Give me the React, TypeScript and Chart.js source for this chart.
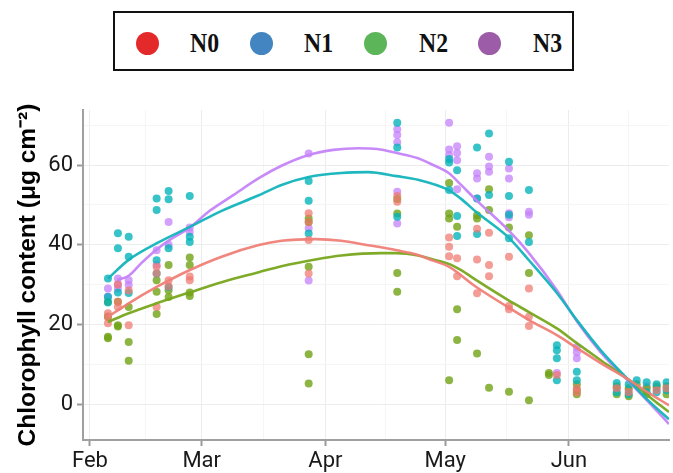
import React, { useEffect, useRef } from "react";
import { Chart, registerables } from "chart.js";

Chart.register(...registerables);

// ---------- data ----------
const seriesNames = ["N0", "N1", "N2", "N3"];

// day-of-year values for month starts (x axis)
const monthTickDays = [32, 60, 91, 121, 152];
const monthTickLabels = ["Feb", "Mar", "Apr", "May", "Jun"];
const minorTickDays = [46, 75.5, 106, 136.5, 167];
const yMajorTicks = [0, 20, 40, 60];
const yMinorTicks = [10, 30, 50, 70];

// observations: [day of year, chlorophyll]
const n0Points: [number, number][] = [
  [36.5, 22.8], [36.5, 21.8], [36.5, 20.3],
  [39, 30], [39, 25.7], [39, 24.4],
  [41.7, 28.5], [41.7, 19.8],
  [48.7, 34.5], [48.7, 32.8], [48.7, 24.4],
  [51.7, 31.1], [51.7, 29.5],
  [57, 32], [57, 31.1],
  [86.8, 47.9], [86.8, 45.7], [86.8, 41.2], [86.8, 32.8],
  [109, 52.2], [109, 50.8],
  [122, 41.8], [122, 39.5], [122, 37.1],
  [124, 36.6], [124, 32.1],
  [129, 44], [129, 36.3], [129, 27.8],
  [132, 43], [132, 34.9], [132, 32.1],
  [137, 37], [137, 24.6], [137, 23.8],
  [142, 29], [142, 21.9], [142, 19.6],
  [149, 7.3],
  [154, 4], [154, 3],
  [164, 4], [167, 3], [174, 3.5], [176.5, 4],
];
const n1Points: [number, number][] = [
  [36.5, 31.5], [36.5, 26.9], [36.5, 25.5],
  [39, 42.9], [39, 39.1], [39, 28],
  [41.7, 42], [41.7, 37], [41.7, 27.9],
  [48.7, 51.6], [48.7, 48.7], [48.7, 36.1], [48.7, 32.8],
  [51.7, 53.5], [51.7, 51.4], [51.7, 39.1], [51.7, 29.4],
  [57, 52.2], [57, 42], [57, 40.7],
  [86.8, 56], [86.8, 51], [86.8, 42.8],
  [109, 70.6], [109, 64.4], [109, 47],
  [122, 61.5], [122, 60.6], [122, 53.7],
  [124, 58.7], [124, 47.2], [124, 42.2],
  [129, 64.4], [129, 51.6], [129, 42.7],
  [132, 67.9], [132, 52.5],
  [137, 60.8], [137, 52.2], [137, 47.5], [137, 41.6],
  [142, 53.7], [142, 40.7],
  [149, 14.8], [149, 13.5], [149, 11.5], [149, 6],
  [154, 8.1], [154, 6],
  [164, 5.3], [164, 3], [167, 5], [167, 2.5], [169, 6],
  [171.5, 5.5], [171.5, 3], [174, 5], [174, 3], [176.5, 5.5], [176.5, 3.5],
];
const n2Points: [number, number][] = [
  [36.5, 25.7], [36.5, 22], [36.5, 16.9], [36.5, 16.5],
  [39, 25.7], [39, 19.8], [39, 19.5],
  [41.7, 24.4], [41.7, 15.6], [41.7, 10.9],
  [48.7, 31.1], [48.7, 28.2], [48.7, 22.6],
  [51.7, 34.9], [51.7, 28.6], [51.7, 26.9],
  [57, 36.8], [57, 34.9], [57, 28], [57, 27.1],
  [86.8, 46.6], [86.8, 45.7], [86.8, 34.5], [86.8, 12.5], [86.8, 5.2],
  [109, 51.5], [109, 47.8], [109, 32.9], [109, 28.2],
  [122, 55.5], [122, 47.8], [122, 46.6], [122, 6],
  [124, 44.5], [124, 23.8], [124, 16.1],
  [129, 47.4], [129, 46.6], [129, 12.7],
  [132, 53.9], [132, 48.7], [132, 4.1],
  [137, 44.3], [137, 3.1],
  [142, 42.4], [142, 32.9], [142, 1],
  [147, 7.8], [147, 7.3],
  [154, 5], [154, 3.5], [154, 2.5],
  [164, 4.5], [164, 2.5], [167, 4], [167, 2], [169, 5],
  [171.5, 4], [171.5, 2.5], [174, 4.5], [176.5, 4.5], [176.5, 2.5],
];
const n3Points: [number, number][] = [
  [36.5, 27], [36.5, 29],
  [39, 31.5], [39, 30], [39, 29],
  [41.7, 31.1], [41.7, 29.9],
  [48.7, 38.6], [48.7, 35],
  [51.7, 45.7], [51.7, 40],
  [57, 44.3], [57, 43.2],
  [86.8, 62.9], [86.8, 44.1], [86.8, 31],
  [109, 69], [109, 67.5], [109, 65.7], [109, 53.3], [109, 45.3],
  [122, 70.6], [122, 63.9], [122, 62.5],
  [124, 64.7], [124, 63], [124, 61.2], [124, 53.9],
  [129, 57.9], [129, 56.6], [129, 51.6],
  [132, 62.1], [132, 59.6], [132, 58.3],
  [137, 59.1], [137, 56.6], [137, 47.9], [137, 46.9],
  [142, 48.3], [142, 47.5],
  [149, 7.8],
  [154, 14.3], [154, 13], [154, 11.5],
  [164, 4], [167, 3.5], [171.5, 4.5], [174, 4],
];

// smoothed (loess) curves: [day, value]
const n0Curve: [number, number][] = [
  [36.5, 21.9], [41.7, 25.3], [48.7, 29.4], [56.9, 33.6], [65, 37], [74.3, 39.9],
  [80, 41], [88.5, 41.4], [95, 41], [101, 40], [108.9, 38.6], [114, 37.5],
  [118, 36], [121.9, 34.5], [128.8, 29.4], [136.8, 24.3], [142, 21.1], [149, 17.3],
  [154, 14.1], [160, 10.3], [167.2, 6], [172, 2.8], [177.1, -0.3],
];
const n1Curve: [number, number][] = [
  [36.5, 31.5], [41.7, 36.2], [49.4, 40.7], [56.9, 44.4], [65, 48.5], [74.3, 52.4],
  [80, 55], [86.8, 57], [95, 58], [101.7, 58.2], [108.9, 57.2], [114.2, 56.3],
  [121.9, 53.7], [125, 51.5], [128.8, 48.2], [136.8, 41.9], [142, 36.1], [149, 27.9],
  [154, 21.1], [160, 13.5], [167.2, 5.8], [172, 0.8], [177.1, -3.8],
];
const n2Curve: [number, number][] = [
  [36.5, 20.6], [41.7, 22.8], [48.7, 25.3], [56.9, 28], [65, 30.6], [74.3, 33.1],
  [80, 34.6], [88.5, 36.3], [95, 37.3], [104.9, 37.9], [108.9, 37.9], [114.2, 37.3],
  [118, 36.3], [121.9, 35.2], [125, 33.6], [128.8, 31.1], [136.8, 26.1], [142, 23.1],
  [149, 19], [154, 15.3], [160, 11], [167.2, 6], [172, 2], [177.1, -2],
];
const n3Curve: [number, number][] = [
  [38.9, 31.2], [41.7, 32.2], [45, 35.5], [48.7, 38.8], [52, 41.2], [56.9, 44.2],
  [62, 48.5], [68, 52.5], [74.3, 56.7], [80, 59.8], [86.8, 62.5], [93, 63.8],
  [99.2, 64.2], [104, 64], [108.9, 63], [114.2, 61.7], [118, 60], [121.9, 58],
  [125, 55], [128.8, 51.2], [136.8, 43.7], [142, 37.9], [149, 28.6], [154, 20.8],
  [160, 13], [167.2, 5.5], [172, 0.5], [177.1, -5],
];

const allPoints = [n0Points, n1Points, n2Points, n3Points];
const allCurves = [n0Curve, n1Curve, n2Curve, n3Curve];

// ---------- styles ----------
const legendColors = ["#e4292b", "#4285c0", "#5cb558", "#9c5ca8"];
const pointColors = [
  "rgba(240,118,109,0.72)",
  "rgba(0,178,186,0.78)",
  "rgba(112,162,20,0.8)",
  "rgba(196,128,250,0.75)",
];
const lineColors = [
  "rgba(240,128,120,0.95)",
  "rgba(20,180,188,0.95)",
  "rgba(120,166,30,0.95)",
  "rgba(196,132,248,0.95)",
];

const W = 673;
const H = 473;
const AREA_TOP = 110;
const AREA_LEFT = 83;
const AREA_BOTTOM = 440;

export default function App() {
  const ref = useRef<HTMLCanvasElement | null>(null);

  useEffect(() => {
    if (!ref.current) return;
    const xTicks = [...monthTickDays, ...minorTickDays].sort((a, b) => a - b);
    const yTicks = [...yMajorTicks, ...yMinorTicks].sort((a, b) => a - b);

    const scatterSets = allPoints.map((pts, i) => ({
      type: "scatter" as const,
      label: seriesNames[i],
      data: pts.map(([x, y]) => ({ x, y })),
      backgroundColor: pointColors[i],
      borderColor: "rgba(0,0,0,0)",
      borderWidth: 0,
      pointRadius: 4,
      pointHoverRadius: 4,
      order: 2,
    }));
    const lineSets = allCurves.map((pts, i) => ({
      type: "line" as const,
      label: seriesNames[i] + " fit",
      data: pts.map(([x, y]) => ({ x, y })),
      borderColor: lineColors[i],
      borderWidth: 2.6,
      pointRadius: 0,
      cubicInterpolationMode: "monotone" as const,
      fill: false,
      order: 1,
    }));

    const chart = new Chart(ref.current, {
      type: "scatter",
      data: { datasets: [...scatterSets, ...lineSets] as any },
      options: {
        animation: false,
        responsive: false,
        maintainAspectRatio: false,
        layout: { padding: { top: AREA_TOP, left: 0, right: 0, bottom: 0 } },
        plugins: { legend: { display: false }, tooltip: { enabled: false } },
        scales: {
          x: {
            type: "linear",
            min: 30.25,
            max: 177.1,
            afterBuildTicks: (s: any) => {
              s.ticks = xTicks.map((v) => ({ value: v }));
            },
            afterFit: (s: any) => {
              s.height = H - AREA_BOTTOM;
            },
            ticks: {
              autoSkip: false,
              maxRotation: 0,
              padding: 2,
              color: "#1a1a1a",
              font: { family: "Roboto", size: 22 },
              callback: (v: any) => {
                const k = monthTickDays.indexOf(Number(v));
                return k >= 0 ? monthTickLabels[k] : "";
              },
            },
            grid: {
              color: (c: any) =>
                monthTickDays.includes(c.tick?.value) ? "#ececec" : "#f5f5f5",
              lineWidth: 1,
              tickLength: 6,
              tickColor: (c: any) =>
                monthTickDays.includes(c.tick?.value) ? "#9a9a9a" : "rgba(0,0,0,0)",
              tickWidth: 2,
            },
            border: { color: "#a0a0a0", width: 2 },
          },
          y: {
            type: "linear",
            min: -9,
            max: 73.8,
            afterBuildTicks: (s: any) => {
              s.ticks = yTicks.map((v) => ({ value: v }));
            },
            afterFit: (s: any) => {
              s.width = AREA_LEFT;
            },
            ticks: {
              autoSkip: false,
              padding: 4,
              color: "#1a1a1a",
              font: { family: "Roboto", size: 22 },
              callback: (v: any) => (yMajorTicks.includes(Number(v)) ? String(v) : ""),
            },
            grid: {
              color: (c: any) =>
                yMajorTicks.includes(c.tick?.value) ? "#ececec" : "#f5f5f5",
              lineWidth: 1,
              tickLength: 6,
              tickColor: (c: any) =>
                yMajorTicks.includes(c.tick?.value) ? "#9a9a9a" : "rgba(0,0,0,0)",
              tickWidth: 2,
            },
            border: { color: "#a0a0a0", width: 2 },
            title: {
              display: true,
              text: "Chlorophyll content (μg cm⁻²)",
              color: "#000",
              font: { family: "Liberation Sans", size: 24.5, weight: "bold" },
              padding: { top: 14, bottom: 0 },
            },
          },
        },
      },
    });
    return () => chart.destroy();
  }, []);

  return (
    <div style={{ position: "fixed", left: 0, top: 0, width: W, height: H, background: "#fff" }}>
      <canvas ref={ref} width={W} height={H} style={{ position: "absolute", left: 0, top: 0, width: W, height: H }} />
      <div
        style={{
          position: "absolute",
          left: 113,
          top: 11,
          width: 461,
          height: 60,
          boxSizing: "border-box",
          border: "2.5px solid #111",
          background: "#fff",
        }}
      >
        {seriesNames.map((name, i) => (
          <React.Fragment key={name}>
            <div
              style={{
                position: "absolute",
                left: 32 + i * 114.3 - 11.5,
                top: 18.5,
                width: 23,
                height: 23,
                borderRadius: "50%",
                background: legendColors[i],
              }}
            />
            <div
              style={{
                position: "absolute",
                left: 75 + i * 114.3,
                top: 3,
                height: 55,
                lineHeight: "55px",
                fontFamily: "'Liberation Serif', serif",
                fontWeight: "bold",
                fontSize: 27,
                color: "#111",
                transform: "scaleX(0.88)",
                transformOrigin: "left center",
              }}
            >
              {name}
            </div>
          </React.Fragment>
        ))}
      </div>
    </div>
  );
}
